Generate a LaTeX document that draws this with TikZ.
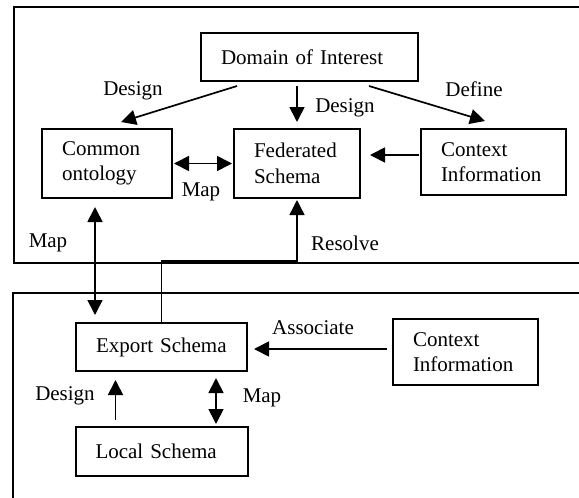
\documentclass[tikz,border=0pt]{standalone}
\usepackage{fontspec}
\setmainfont{Liberation Serif}
\usetikzlibrary{arrows.meta, positioning, calc}

\begin{document}
\begin{tikzpicture}[
    x=1pt, y=-1pt,
    box/.style={rectangle, draw, line width=2pt, text width=#1, align=left, inner xsep=20pt, inner ysep=0pt, font=\fontsize{21}{25.5}\selectfont},
    lbl/.style={inner sep=0pt, font=\fontsize{21}{25.5}\selectfont},
    frame/.style={line width=2pt},
    arrow/.style={-{Triangle[length=15pt,width=15pt]}, line width=1.7pt},
    dblarrow/.style={{Triangle[length=15pt,width=15pt]}-{Triangle[length=15pt,width=15pt]}, line width=1.7pt}
]
\useasboundingbox (0,0) rectangle (579,498);

% Federation level and component level frames
\draw[frame] (600,7) -| (14,263) -- (600,263);
\draw[frame] (600,293) -| (13,510);

% Upper blocks
\node[box=177pt, minimum height=48pt] (dom) at (309.5,57) {Domain of Interest};
\node[box=86pt, minimum height=69pt] (fed) at (297,163.5) {Federated\\Schema};
\node[box=90pt, minimum height=69pt, left=60pt of fed] (common) {Common\\ontology};
\node[box=105pt, minimum height=66pt, right=59pt of fed.north east, anchor=north west] (ctxA) {Context\\Information};

% Lower blocks
\node[box=131pt, minimum height=48pt] (export) at (161.5,347) {Export Schema};
\node[box=132pt, minimum height=49pt, below=54pt of export] (local) {Local Schema};
\node[box=105pt, minimum height=66pt] (ctxB) at (465.5,352) {Context\\Information};

% Arrows
\draw[arrow] ($(dom.south west)+(37,4)$) -- ($(common.north)+(14,-6)$);
\draw[arrow, shorten <=4pt, shorten >=6pt] (dom.south -| fed.north) -- (fed.north);
\draw[arrow] ($(dom.south east)+(-50,4)$) -- ($(ctxA.north)+(-8.5,-7)$);
\draw[dblarrow, shorten <=1pt, shorten >=1pt] (common.east) -- (fed.west);
\draw[arrow] ($(ctxA.west)+(-1,-7)$) -- ($(fed.east)+(9,-8.5)$);
\draw[dblarrow] ($(common.south)+(-12,8)$) coordinate (mapT) -- ([yshift=7pt]export.north -| mapT);
\draw[arrow, line width=1.4pt] (export.north) -- ++(0,-61) -| ([yshift=-1pt]fed.south);
\draw[arrow] ($(ctxB.west)+(-5,-3)$) -- ($(export.east)+(6,2)$);
\draw[arrow] ($(local.north)+(-46,-6)$) coordinate (desB) -- ([yshift=-8pt]export.south -| desB);
\draw[dblarrow] ($(export.south)+(54.5,6)$) coordinate (mapB) -- ([yshift=2pt]local.north -| mapB);

% Arrow labels
\node[lbl] (lDesA) at (133,91) {Design};
\node[lbl] (lDesB) at (345,108) {Design};
\node[lbl] (lDef) at (474,89) {Define};
\node[lbl] (lMapA) at (201,192) {Map};
\node[lbl] (lMapB) at (48,243) {Map};
\node[lbl] (lRes) at (345,243) {Resolve};
\node[lbl] (lAsc) at (313,328) {Associate};
\node[lbl] (lDesC) at (65,396) {Design};
\node[lbl] (lMapC) at (262,398) {Map};
\end{tikzpicture}
\end{document}
